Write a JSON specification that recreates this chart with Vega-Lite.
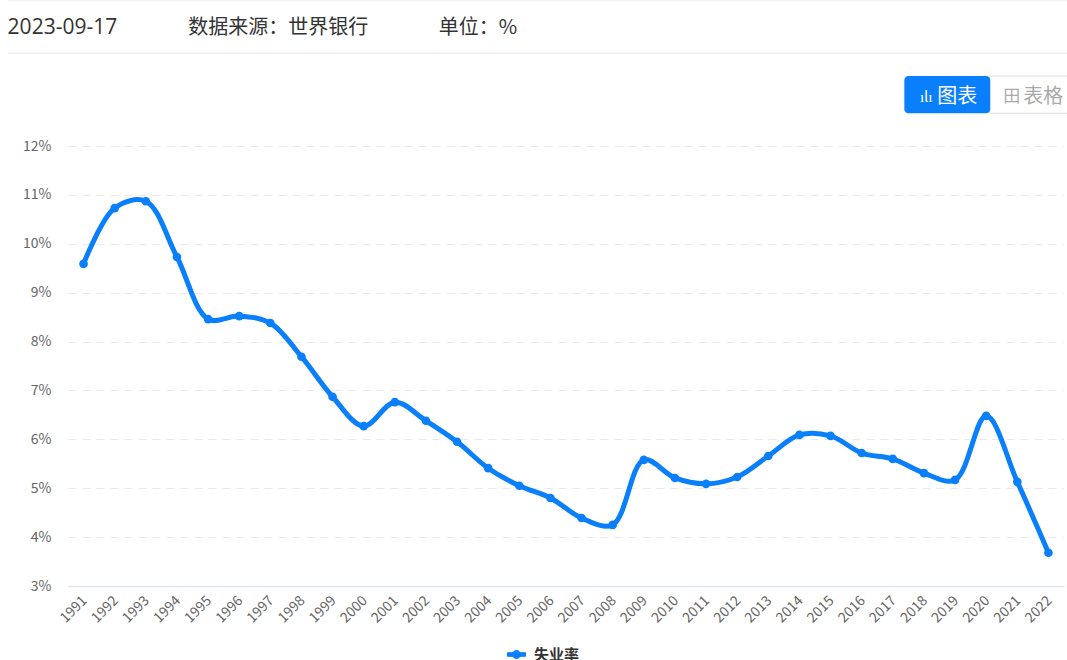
{
"$schema":"https://vega.github.io/schema/vega-lite/v6.json",
"autosize":{"type":"none"},
"padding":{"left":68,"top":146,"right":3,"bottom":74},
"width":996,"height":440,
"background":"white",
"config":{"font":"Noto Sans CJK SC","view":{"stroke":null}},
"data":{"values":[
{"year":1991,"rate":9.59},{"year":1992,"rate":10.73},{"year":1993,"rate":10.87},{"year":1994,"rate":9.73},{"year":1995,"rate":8.46},{"year":1996,"rate":8.52},{"year":1997,"rate":8.38},{"year":1998,"rate":7.69},{"year":1999,"rate":6.87},{"year":2000,"rate":6.27},{"year":2001,"rate":6.76},{"year":2002,"rate":6.38},{"year":2003,"rate":5.95},{"year":2004,"rate":5.41},{"year":2005,"rate":5.05},{"year":2006,"rate":4.80},{"year":2007,"rate":4.39},{"year":2008,"rate":4.25},{"year":2009,"rate":5.58},{"year":2010,"rate":5.21},{"year":2011,"rate":5.09},{"year":2012,"rate":5.23},{"year":2013,"rate":5.66},{"year":2014,"rate":6.09},{"year":2015,"rate":6.07},{"year":2016,"rate":5.72},{"year":2017,"rate":5.60},{"year":2018,"rate":5.31},{"year":2019,"rate":5.17},{"year":2020,"rate":6.48},{"year":2021,"rate":5.13},{"year":2022,"rate":3.68}
]},
"transform":[{"calculate":"'失业率'","as":"series"}],
"layer":[
{"mark":{"type":"line","interpolate":"catmull-rom","strokeWidth":5,"point":{"filled":true,"size":75,"opacity":1}},
"encoding":{
"x":{"field":"year","type":"quantitative","scale":{"domain":[1990.5,2022.5],"nice":false,"zero":false},
"axis":{"values":[1991,2022],"labels":false,"title":null,"ticks":false,"grid":false,"domainColor":"#e0e6f1","domainWidth":1.5}},
"y":{"field":"rate","type":"quantitative","scale":{"domain":[3,12],"nice":false,"zero":false},
"axis":{"values":[3,4,5,6,7,8,9,10,11,12],"labelExpr":"datum.value+'%'","title":null,"labelColor":"#666666","labelFontSize":14,"labelPadding":17,"ticks":false,"domain":false,"grid":true,"gridColor":"#e8eaee","gridDash":[8,6],"gridWidth":1}},
"color":{"field":"series","type":"nominal","scale":{"range":["#0a7ffb"]},
"legend":{"title":null,"orient":"none","legendX":439,"legendY":499,"labelFontSize":15,"labelFontWeight":"bold","labelColor":"#333333","labelLimit":200,"symbolType":"M-1,-0.2H1V0.2H-1Z M-0.45,0A0.45,0.45 0 1 1 0.45,0A0.45,0.45 0 1 1 -0.45,0Z","symbolSize":324,"symbolStrokeWidth":1,"symbolFillColor":"#0a7ffb","labelOffset":8}}
}},
{"mark":{"type":"text","align":"right","baseline":"middle","angle":-45,"fontSize":14,"color":"#666666","dx":2},
"encoding":{"text":{"field":"year","type":"quantitative","format":"d"},"x":{"field":"year","type":"quantitative"},"y":{"datum":2.71,"type":"quantitative"}}},
{"data":{"values":[{}]},"mark":{"type":"rule","stroke":"#e6e6e6","strokeWidth":1},
"encoding":{"x":{"datum":1988.56,"type":"quantitative"},"x2":{"datum":2022.6},"y":{"datum":13.9,"type":"quantitative"}}},
{"data":{"values":[{}]},"mark":{"type":"rule","stroke":"#eeeeee","strokeWidth":1},
"encoding":{"x":{"datum":1988.56,"type":"quantitative"},"x2":{"datum":2022.6},"y":{"datum":14.97,"type":"quantitative"}}},
{"data":{"values":[{}]},"mark":{"type":"rect","fill":"white","stroke":"#dddddd","strokeWidth":1},
"encoding":{"x":{"datum":2020.1,"type":"quantitative"},"x2":{"datum":2022.7},"y":{"datum":13.43,"type":"quantitative"},"y2":{"datum":12.67}}},
{"data":{"values":[{}]},"mark":{"type":"rect","fill":"#0a7ffb","cornerRadius":4},
"encoding":{"x":{"datum":2017.37,"type":"quantitative"},"x2":{"datum":2020.13},"y":{"datum":13.43,"type":"quantitative"},"y2":{"datum":12.67}}},
{"data":{"values":[{"t":"2023-09-17","px":1988.56}]},
"mark":{"type":"text","align":"left","baseline":"middle","fontSize":21,"font":"Open Sans","color":"#333333"},
"encoding":{"text":{"field":"t"},"x":{"field":"px","type":"quantitative"},"y":{"datum":14.41,"type":"quantitative"}}},
{"data":{"values":[{"t":"数据来源：世界银行","px":1994.36},{"t":"单位：%","px":2002.41}]},
"mark":{"type":"text","align":"left","baseline":"middle","fontSize":20,"color":"#333333"},
"encoding":{"text":{"field":"t"},"x":{"field":"px","type":"quantitative"},"y":{"datum":14.41,"type":"quantitative"}}},
{"data":{"values":[{"t":"ılı","px":2017.87,"c":"#ffffff","s":15},{"t":"图表","px":2018.43,"c":"#ffffff","s":20},{"t":"田","px":2020.55,"c":"#aaaaaa","s":17},{"t":"表格","px":2021.19,"c":"#aaaaaa","s":20}]},
"mark":{"type":"text","align":"left","baseline":"middle"},
"encoding":{"text":{"field":"t"},"x":{"field":"px","type":"quantitative"},"y":{"datum":13.0,"type":"quantitative"},"color":{"field":"c","type":"nominal","scale":null},"size":{"field":"s","type":"quantitative","scale":null}}}
]
}
